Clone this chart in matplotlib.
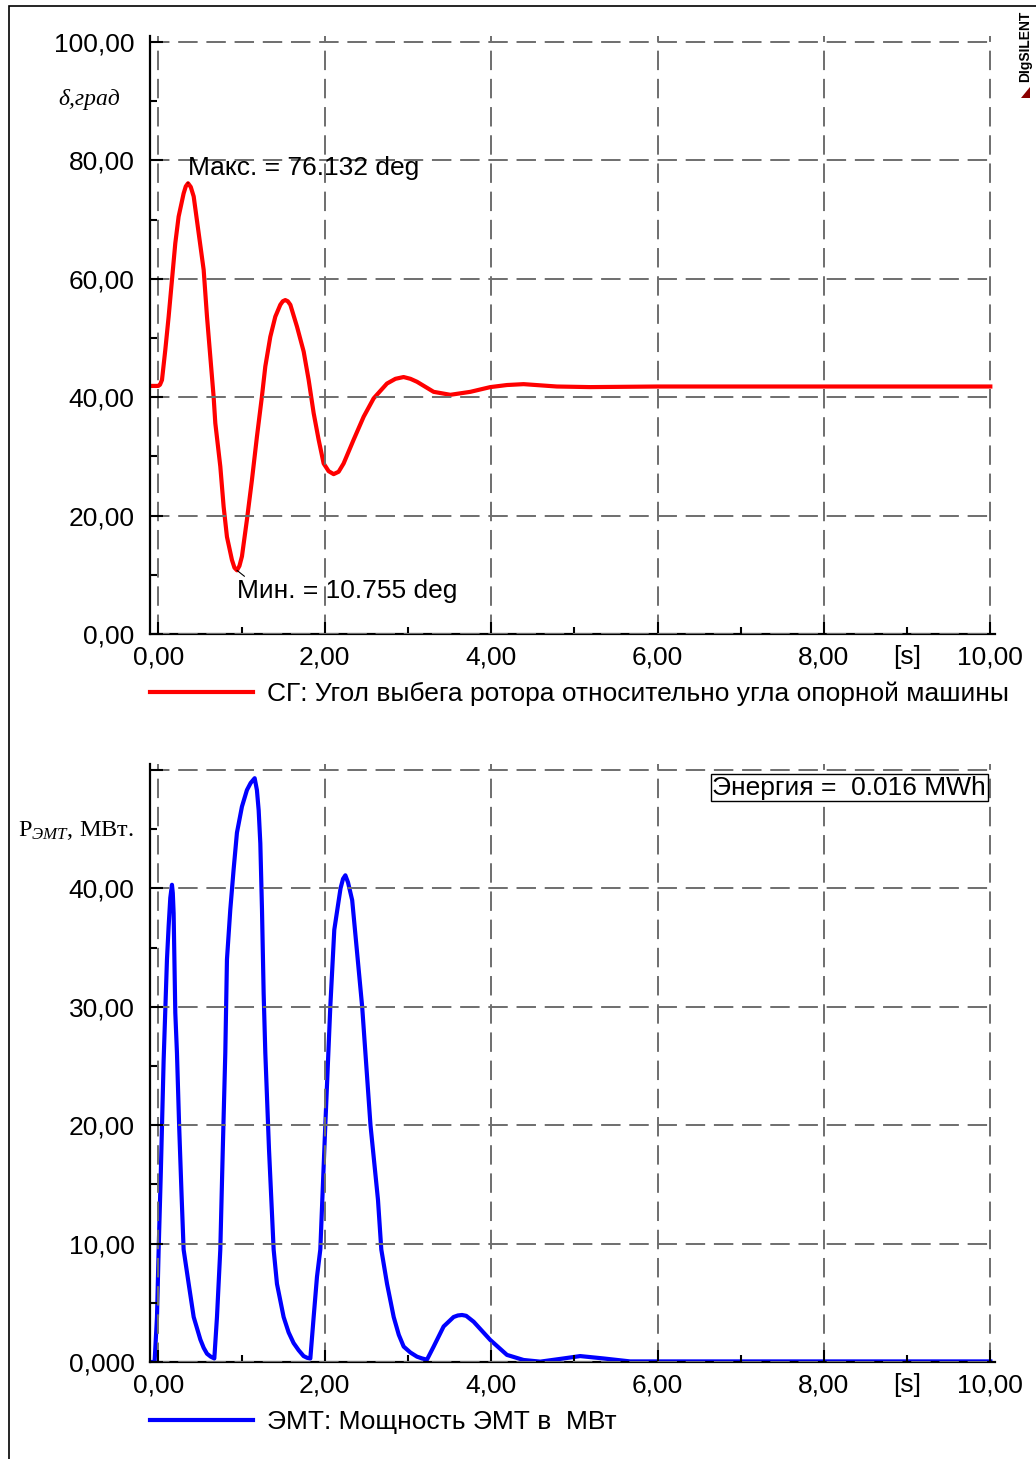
import matplotlib
matplotlib.use("Agg")
import matplotlib.pyplot as plt
from matplotlib.ticker import MultipleLocator, FuncFormatter
from matplotlib.patches import Rectangle, Polygon
from matplotlib.lines import Line2D

plt.rcParams['font.family'] = ['Liberation Sans', 'DejaVu Sans']
plt.rcParams['mathtext.fontset'] = 'custom'
plt.rcParams['mathtext.rm'] = 'Liberation Serif'
plt.rcParams['mathtext.it'] = 'Liberation Serif:italic'

# rotor angle of the generator, deg
t_delta = [-0.1, 0.0, 0.02, 0.044, 0.084, 0.124, 0.164, 0.204, 0.244, 0.304,
           0.33, 0.357, 0.39, 0.425, 0.485, 0.545, 0.585, 0.625, 0.665, 0.685,
           0.745, 0.785, 0.825, 0.885, 0.915, 0.945, 0.975, 1.005, 1.065, 1.125,
           1.185, 1.245, 1.286, 1.346, 1.406, 1.466, 1.496, 1.526, 1.556, 1.587,
           1.667, 1.747, 1.807, 1.867, 1.927, 1.987, 2.047, 2.107, 2.167, 2.227,
           2.347, 2.468, 2.588, 2.748, 2.85, 2.948, 3.03, 3.109, 3.309, 3.51,
           3.75, 3.99, 4.19, 4.39, 4.59, 4.79, 5.19, 6.0, 7.0, 8.0, 9.0, 10.0]
delta = [41.9, 41.9, 42.1, 42.9, 48.0, 53.6, 59.8, 66.0, 70.5, 74.4,
         75.6, 76.132, 75.5, 73.9, 67.7, 61.5, 53.6, 46.8, 40.0, 35.6,
         28.3, 21.5, 16.4, 12.5, 11.2, 10.755, 11.5, 13.1, 19.3, 26.0,
         33.3, 40.1, 45.2, 50.2, 53.6, 55.6, 56.2, 56.4, 56.2, 55.6,
         51.9, 47.7, 42.9, 37.3, 32.8, 28.8, 27.5, 27.0, 27.4, 28.8,
         32.8, 36.7, 39.8, 42.3, 43.1, 43.4, 43.1, 42.6, 40.9, 40.4,
         40.9, 41.7, 42.05, 42.2, 42.0, 41.8, 41.7, 41.8, 41.8, 41.8, 41.8, 41.8]
delta_max, t_delta_max = 76.132, 0.357
delta_min, t_delta_min = 10.755, 0.945

# EMT power, MW
t_pemt = [-0.1, -0.045, -0.016, 0.004, 0.03, 0.064, 0.104, 0.124, 0.144, 0.164,
          0.174, 0.184, 0.204, 0.224, 0.25, 0.28, 0.304, 0.365, 0.425, 0.505,
          0.545, 0.585, 0.63, 0.673, 0.705, 0.745, 0.775, 0.805, 0.825, 0.865,
          0.905, 0.945, 1.005, 1.065, 1.11, 1.158, 1.185, 1.206, 1.226, 1.246,
          1.266, 1.286, 1.33, 1.386, 1.426, 1.506, 1.566, 1.626, 1.686, 1.746,
          1.79, 1.827, 1.867, 1.907, 1.947, 2.007, 2.067, 2.115, 2.19, 2.22,
          2.248, 2.28, 2.33, 2.45, 2.55, 2.64, 2.68, 2.749, 2.829, 2.89,
          2.949, 3.03, 3.109, 3.17, 3.229, 3.309, 3.429, 3.549, 3.6, 3.65,
          3.7, 3.79, 3.99, 4.19, 4.39, 4.59, 4.87, 5.07, 5.35, 5.67,
          6.5, 8.0, 10.0]
p_emt = [0, 0, 3.8, 9.5, 16.0, 25.5, 34.0, 36.8, 39.2, 40.3,
         39.6, 37.9, 29.5, 26.1, 20.0, 14.0, 9.5, 6.6, 3.8, 1.9,
         1.2, 0.7, 0.45, 0.3, 3.8, 9.5, 18.0, 26.1, 34.0, 38.2,
         41.6, 44.7, 46.9, 48.3, 48.9, 49.3, 48.3, 46.6, 43.8, 38.2,
         31.1, 26.1, 18.0, 9.5, 6.6, 3.8, 2.5, 1.6, 1.0, 0.5,
         0.35, 0.3, 3.8, 7.2, 9.5, 20.0, 30.0, 36.5, 40.0, 40.8,
         41.1, 40.5, 39.0, 30.0, 20.0, 13.7, 9.5, 6.6, 3.8, 2.3,
         1.3, 0.8, 0.45, 0.3, 0.2, 1.3, 3.0, 3.8, 3.93, 3.97,
         3.9, 3.4, 1.86, 0.6, 0.17, 0.03, 0.3, 0.5, 0.3, 0.05,
         0.05, 0.05, 0.05]
energy_mwh = 0.016

x_labels = {0: '0,00', 2: '2,00', 4: '4,00', 6: '6,00', 8: '8,00', 10: '10,00'}
x_unit_labels = {9: '[s]'}

W, H = 1036, 1459
FS = 19
fig = plt.figure(figsize=(W / 100, H / 100), dpi=100)


def px_rect(left, top, right, bottom):
    return [left / W, 1 - bottom / H, (right - left) / W, (bottom - top) / H]


def dec_comma(v, zero):
    if v == 0:
        return zero
    return f"{v:.2f}".replace('.', ',')


def style_axes(ax, ymax, ystep, zero_label):
    for s in ('top', 'right'):
        ax.spines[s].set_visible(False)
    for s in ('left', 'bottom'):
        ax.spines[s].set_linewidth(1.6)
    ax.set_xlim(-0.1, 10.05)
    ax.set_ylim(0, ymax)
    ax.xaxis.set_major_locator(MultipleLocator(2))
    ax.xaxis.set_minor_locator(MultipleLocator(1))
    ax.yaxis.set_major_locator(MultipleLocator(ystep))
    ax.yaxis.set_minor_locator(MultipleLocator(ystep / 2))
    ax.xaxis.set_major_formatter(FuncFormatter(lambda v, p: x_labels.get(int(round(v)), '')))
    ax.xaxis.set_minor_formatter(FuncFormatter(lambda v, p: x_unit_labels.get(int(round(v)), '')))
    ax.yaxis.set_major_formatter(FuncFormatter(lambda v, p: dec_comma(v, zero_label) if v <= ymax - 0.9 else ''))
    ax.tick_params(which='major', direction='in', length=9, width=1.5, labelsize=FS)
    ax.tick_params(which='minor', direction='in', length=5, width=1.5, labelsize=FS)
    ax.tick_params(axis='x', which='both', pad=8)
    ax.tick_params(axis='y', which='both', pad=11)
    ax.grid(True, which='major', color='#6e6e6e', lw=1.4, ls=(0, (10, 4.5)))
    ax.set_axisbelow(False)


def add_legend(ax, color, label):
    ax.legend([Line2D([], [], color=color, lw=3)], [label],
              loc='center left', bbox_to_anchor=(0, -0.1003), frameon=False,
              handlelength=3.9, handletextpad=0.55, borderpad=0, borderaxespad=0,
              fontsize=FS)


# upper plot: rotor angle
ax1 = fig.add_axes(px_rect(150, 36, 994.5, 634))
ax1.plot(t_delta, delta, color='#ff0000', lw=3, solid_joinstyle='round')
style_axes(ax1, 101, 20, '0,00')
ax1.annotate(f'Макс. = {delta_max:.3f} deg', xy=(t_delta_max, delta_max),
             xytext=(0, 6), textcoords='offset points', ha='left', va='baseline',
             fontsize=FS, arrowprops=dict(arrowstyle='-', lw=0.8, color='black',
                                          relpos=(0, 0), shrinkA=0, shrinkB=0))
ax1.annotate(f'Мин. = {delta_min:.3f} deg', xy=(t_delta_min, delta_min),
             xytext=(0, -20), textcoords='offset points', ha='left', va='baseline',
             fontsize=FS, arrowprops=dict(arrowstyle='-', lw=0.8, color='black',
                                          relpos=(0.05, 1), shrinkA=0, shrinkB=0))
add_legend(ax1, '#ff0000', 'СГ: Угол выбега ротора относительно угла опорной машины')

# lower plot: EMT power
ax2 = fig.add_axes(px_rect(150, 764, 994.5, 1362))
ax2.plot(t_pemt, p_emt, color='#0000ff', lw=3, solid_joinstyle='round')
style_axes(ax2, 50.5, 10, '0,000')
ax2.text(6.66, 48.5, f'Энергия =  {energy_mwh:.3f} MWh', ha='left', va='center',
         fontsize=FS, bbox=dict(boxstyle='square,pad=0.05', fc='white', ec='black', lw=1))
add_legend(ax2, '#0000ff', 'ЭМТ: Мощность ЭМТ в  МВт')

# axis captions
fig.text(89 / W, 1 - 100 / H, 'δ,град', family='Liberation Serif', style='italic',
         fontsize=17, ha='center', va='center')
fig.text(76 / W, 1 - 830 / H, r'$\mathrm{P}_{\mathit{ЭМТ}}$, МВт.', family='Liberation Serif',
         fontsize=17.5, ha='center', va='center')

# page frame and logo
fig.add_artist(Rectangle((9 / W, -0.01), 1.0, 1 - 6 / H + 0.01, transform=fig.transFigure,
                         fill=False, ec='black', lw=1.2, clip_on=False))
fig.text(1025 / W, 1 - 46 / H, 'DIgSILENT', rotation=90, fontsize=10, weight='bold',
         ha='center', va='center')
fig.add_artist(Polygon([(1030 / W, 1 - 87 / H), (1030 / W, 1 - 98 / H), (1021 / W, 1 - 98 / H)],
                       closed=True, transform=fig.transFigure, fc='#8b0000', ec='none'))

fig.savefig('out.png', dpi=100)
